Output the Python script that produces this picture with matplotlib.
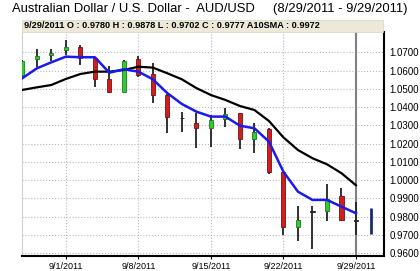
import matplotlib as mpl
mpl.use('Agg')
import matplotlib.pyplot as plt
from matplotlib.patches import Rectangle

plt.rcParams['font.family'] = ['Liberation Sans', 'DejaVu Sans']

# trading days 8/29/2011 - 9/29/2011
dates = ['8/29', '8/30', '8/31', '9/1', '9/2', '9/5', '9/6', '9/7', '9/8', '9/9',
         '9/12', '9/13', '9/14', '9/15', '9/16', '9/19', '9/20', '9/21', '9/22', '9/23',
         '9/26', '9/27', '9/28', '9/29']
opens = [1.0578, 1.0662, 1.0685, 1.0713, 1.0727, 1.0667, 1.0552, 1.0484, 1.0662, 1.0581,
         1.0466, 1.0342, 1.0311, 1.0284, 1.0335, 1.0367, 1.0224, 1.0279, 1.0043, 0.9745,
         0.9830, 0.9831, 0.9915, 0.9780]
highs = [1.0660, 1.0716, 1.0716, 1.0767, 1.0740, 1.0676, 1.0625, 1.0660, 1.0678, 1.0640,
         1.0470, 1.0375, 1.0366, 1.0357, 1.0393, 1.0367, 1.0311, 1.0288, 1.0043, 0.9859,
         0.9859, 0.9979, 0.9956, 0.9878]
lows = [1.0565, 1.0621, 1.0654, 1.0685, 1.0630, 1.0512, 1.0479, 1.0480, 1.0567, 1.0424,
        1.0257, 1.0265, 1.0175, 1.0183, 1.0293, 1.0169, 1.0147, 1.0033, 0.9700, 0.9669,
        0.9623, 0.9777, 0.9777, 0.9702]
closes = [1.0652, 1.0680, 1.0695, 1.0727, 1.0667, 1.0552, 1.0484, 1.0654, 1.0576, 1.0466,
          1.0344, 1.0340, 1.0284, 1.0329, 1.0361, 1.0225, 1.0265, 1.0043, 0.9745, 0.9782,
          0.9826, 0.9897, 0.9782, 0.9777]
fast_ma = [1.0558, 1.0612, 1.0645, 1.0676, 1.0673, 1.0673, 1.0588, 1.0607, 1.0594, 1.0552,
           1.0476, 1.0417, 1.0375, 1.0348, 1.0348, 1.0298, 1.0284, 1.0211, 1.0046, 0.9937,
           0.9892, 0.9892, 0.9855, 0.9819]
sma10 = [1.0494, 1.0508, 1.0521, 1.0554, 1.0581, 1.0594, 1.0594, 1.0603, 1.0621, 1.0616,
         1.0585, 1.0552, 1.0504, 1.0466, 1.0439, 1.0406, 1.0384, 1.0324, 1.0234, 1.0165,
         1.0120, 1.0087, 1.0038, 0.9972]
next_range = (0.9704, 0.9846)

xtick_idx = [3, 8, 13, 18, 23]
xtick_labels = ['9/1/2011', '9/8/2011', '9/15/2011', '9/22/2011', '9/29/2011']
yticks = [0.96, 0.97, 0.98, 0.99, 1.00, 1.01, 1.02, 1.03, 1.04, 1.05, 1.06, 1.07]

fig = plt.figure(figsize=(4.2, 2.71), dpi=100)
ax = fig.add_axes([22/420, 1-256/271, 362/420, 224/271])

ax.axvline(23, color='#808080', lw=1.5, zorder=1)

x = list(range(len(dates)))
for i in x:
    o, h, l, c = opens[i], highs[i], lows[i], closes[i]
    up = c >= o
    col = '#2ecc2e' if up else '#cc1f1f'
    edge = '#1f7a1f' if up else '#7a1010'
    if abs(c - o) < 0.0006:
        col = edge = '#222222'
    ax.vlines(i, l, h, color='#222222', lw=1.3, zorder=3)
    ax.bar(i, max(abs(c - o), 0.0002), bottom=min(o, c), width=0.28,
           color=col, edgecolor=edge, lw=0.6, zorder=4)

ax.vlines(24, next_range[0], next_range[1], color='#1a2a6c', lw=2, zorder=3)

ax.plot(x, sma10, color='black', lw=1.6, zorder=5)
ax.plot(x, fast_ma, color='#1a1aee', lw=1.8, zorder=6)

ax.set_xlim(-0.02, 24.93)
ax.set_ylim(0.9585, 1.0811)
ax.set_xticks(xtick_idx)
ax.set_xticklabels(xtick_labels, fontsize=6.5)
ax.set_yticks(yticks)
ax.set_yticklabels(['%.4f' % v for v in yticks], fontsize=7)
ax.yaxis.tick_right()
ax.tick_params(axis='y', length=0, pad=4)
ax.tick_params(axis='x', length=2, pad=2)
ax.grid(True, color='#b8b8b8', ls=':', lw=0.8)
ax.set_axisbelow(True)

ax.spines['top'].set_visible(False)
ax.spines['left'].set_color('#d0d0d0')
ax.spines['right'].set_linewidth(1.5)
ax.spines['bottom'].set_linewidth(1.5)

fig.text(12/420, 1-9/271, 'Australian Dollar / U.S. Dollar -  AUD/USD     (8/29/2011 - 9/29/2011)',
         fontsize=9.4, va='center', ha='left')
fig.patches.append(Rectangle((22/420, 1-32/271), 361/420, 12/271, transform=fig.transFigure,
                             facecolor='#ece9d8', edgecolor='#d8d4c0', lw=0.5))
fig.text(24/420, 1-26/271, '9/29/2011 O : 0.9780 H : 0.9878 L : 0.9702 C : 0.9777 A10SMA : 0.9972',
         fontsize=6.6, fontweight='bold', va='center', ha='left')

fig.savefig('out.png', dpi=100)
plt.close(fig)
